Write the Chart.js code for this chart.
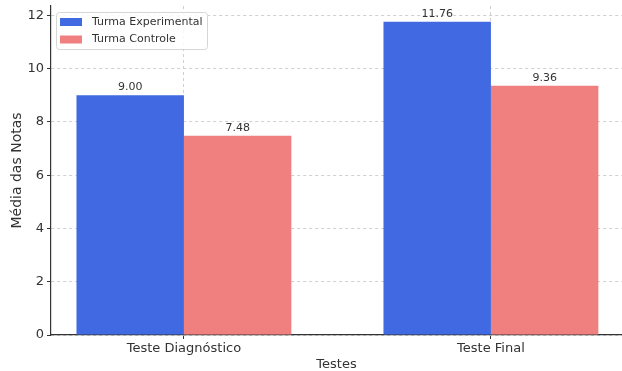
<!DOCTYPE html>
<html>
<head>
<meta charset="utf-8">
<script src="https://cdn.jsdelivr.net/npm/chart.js@4.4.1/dist/chart.umd.min.js"></script>
<style>
  html, body { margin: 0; padding: 0; background: #fff; overflow: hidden; }
  #wrap { width: 622px; height: 371px; position: relative; }
</style>
</head>
<body>
<div id="wrap"><canvas id="c"></canvas></div>
<script>
// Chart data
const categories = ['Teste Diagnóstico', 'Teste Final'];
const seriesNames = ['Turma Experimental', 'Turma Controle'];
const experimental = [9.00, 11.76];
const controle = [7.48, 9.36];
const yTicks = [0, 2, 4, 6, 8, 10, 12];

const BLUE = '#4169E1';
const RED = '#F08080';
const INK = '#333333';
const GRID = '#cfcfcf';
const FONT = "'DejaVu Sans', sans-serif";

const toPoints = vals => vals.map((v, i) => ({ x: i, y: v }));

// Value labels above each bar
const valueLabels = {
  id: 'valueLabels',
  afterDatasetsDraw(chart) {
    const ctx = chart.ctx;
    ctx.save();
    ctx.font = '11px ' + FONT;
    ctx.fillStyle = INK;
    ctx.textAlign = 'center';
    ctx.textBaseline = 'alphabetic';
    chart.data.datasets.forEach((ds, di) => {
      chart.getDatasetMeta(di).data.forEach((bar, i) => {
        ctx.fillText(ds.data[i].y.toFixed(2), bar.x, bar.y - 5);
      });
    });
    ctx.restore();
  }
};

// Boxed legend in the upper-left corner of the plot
const boxLegend = {
  id: 'boxLegend',
  afterDatasetsDraw(chart) {
    const ctx = chart.ctx;
    const a = chart.chartArea;
    const x0 = a.left + 5, y0 = a.top + 6, w = 151, h = 37;
    ctx.save();
    ctx.fillStyle = 'rgba(255,255,255,0.85)';
    ctx.strokeStyle = '#d6d6d6';
    ctx.lineWidth = 1;
    ctx.beginPath();
    ctx.roundRect(x0 + 0.5, y0 + 0.5, w, h, 3);
    ctx.fill();
    ctx.stroke();
    ctx.font = '11px ' + FONT;
    ctx.textBaseline = 'middle';
    ctx.textAlign = 'left';
    chart.data.datasets.forEach((ds, i) => {
      const cy = y0 + 10 + i * 17.5;
      ctx.fillStyle = ds.backgroundColor;
      ctx.fillRect(x0 + 4, cy - 4, 22, 8);
      ctx.fillStyle = INK;
      ctx.fillText(ds.label, x0 + 36, cy);
    });
    ctx.restore();
  }
};

const gridOpts = {
  color: GRID,
  tickColor: INK,
  tickLength: 4,
  tickBorderDash: [],
  offset: false
};

new Chart(document.getElementById('c'), {
  type: 'bar',
  data: {
    datasets: [
      { label: seriesNames[0], data: toPoints(experimental), backgroundColor: BLUE,
        categoryPercentage: 0.7, barPercentage: 1.0 },
      { label: seriesNames[1], data: toPoints(controle), backgroundColor: RED,
        categoryPercentage: 0.7, barPercentage: 1.0 }
    ]
  },
  options: {
    responsive: true,
    maintainAspectRatio: false,
    animation: false,
    layout: { padding: { top: 6, right: 0, left: 0, bottom: 0 } },
    plugins: { legend: { display: false }, tooltip: { enabled: false } },
    scales: {
      x: {
        type: 'linear',
        offset: false,
        min: -0.433,
        max: 1.427,
        afterBuildTicks: s => { s.ticks = categories.map((c, i) => ({ value: i })); },
        afterFit: s => { s.height = 36; s.paddingLeft = 0; s.paddingRight = 0; },
        ticks: {
          callback: v => categories[v] ?? '',
          color: INK,
          font: { family: FONT, size: 13 },
          padding: 2,
          maxRotation: 0
        },
        grid: gridOpts,
        border: { color: INK, width: 1.2, dash: [3, 3] },
        title: {
          display: true,
          text: 'Testes',
          color: INK,
          font: { family: FONT, size: 13, lineHeight: 1.0 },
          padding: { top: 0, bottom: 0 }
        }
      },
      y: {
        min: 0,
        max: 12.35,
        afterBuildTicks: s => { s.ticks = yTicks.map(v => ({ value: v })); },
        afterFit: s => { s.width = 51; s.paddingTop = 0; s.paddingBottom = 0; },
        ticks: {
          color: INK,
          font: { family: FONT, size: 13 },
          padding: 3
        },
        grid: gridOpts,
        border: { color: INK, width: 1.2, dash: [3, 3] },
        title: {
          display: true,
          text: 'Média das Notas',
          color: INK,
          font: { family: FONT, size: 14 },
          padding: { top: 9, bottom: 0 }
        }
      }
    }
  },
  plugins: [valueLabels, boxLegend]
});
</script>
</body>
</html>
